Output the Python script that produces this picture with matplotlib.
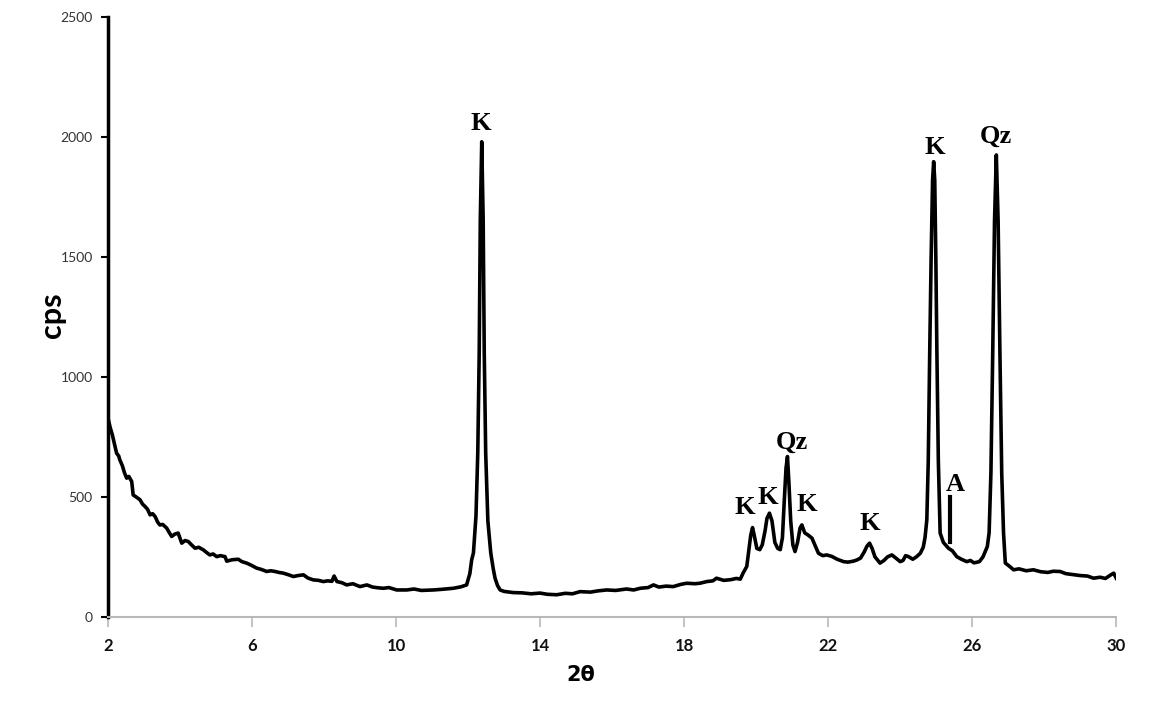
import matplotlib
matplotlib.use('Agg')
import matplotlib.pyplot as plt

# XRD pattern (2theta in degrees, intensity in cps)
two_theta = [
    2.00, 2.06, 2.12, 2.18, 2.24, 2.30, 2.33, 2.40, 2.46, 2.52, 2.58, 2.66, 2.70, 2.78, 2.89, 2.96,
    3.03, 3.10, 3.17, 3.24, 3.31, 3.38, 3.44, 3.52, 3.63, 3.70, 3.77, 3.86, 3.95, 4.05, 4.14, 4.23,
    4.32, 4.42, 4.52, 4.65, 4.74, 4.83, 4.92, 5.02, 5.12, 5.25, 5.30, 5.45, 5.62, 5.72, 5.85, 5.98,
    6.13, 6.25, 6.41, 6.52, 6.64, 6.75, 6.87, 7.00, 7.15, 7.28, 7.43, 7.55, 7.70, 7.85, 7.98, 8.10,
    8.22, 8.28, 8.36, 8.50, 8.63, 8.80, 9.00, 9.19, 9.35, 9.50, 9.65, 9.80, 10.02, 10.30, 10.50, 10.70,
    11.04, 11.30, 11.59, 11.80, 11.96, 12.05, 12.10, 12.15, 12.22, 12.27, 12.31, 12.34, 12.38, 12.42,
    12.45, 12.49, 12.55, 12.63, 12.70, 12.75, 12.82, 12.89, 13.00, 13.26, 13.50, 13.75, 14.00, 14.20,
    14.46, 14.70, 14.90, 15.11, 15.40, 15.60, 15.85, 16.10, 16.40, 16.60, 16.78, 17.00, 17.15, 17.30,
    17.50, 17.70, 17.90, 18.07, 18.30, 18.44, 18.63, 18.80, 18.90, 19.10, 19.30, 19.45, 19.56, 19.64,
    19.74, 19.80, 19.85, 19.90, 19.96, 20.02, 20.10, 20.17, 20.25, 20.30, 20.37, 20.44, 20.52, 20.60,
    20.67, 20.73, 20.78, 20.83, 20.87, 20.91, 20.96, 21.02, 21.08, 21.15, 21.22, 21.27, 21.35, 21.45,
    21.55, 21.63, 21.73, 21.85, 21.96, 22.10, 22.25, 22.43, 22.55, 22.70, 22.80, 22.90, 23.00, 23.08,
    23.15, 23.22, 23.30, 23.44, 23.55, 23.65, 23.77, 23.88, 24.00, 24.08, 24.15, 24.23, 24.35, 24.45,
    24.56, 24.64, 24.69, 24.74, 24.78, 24.82, 24.86, 24.90, 24.93, 24.96, 24.99, 25.02, 25.06, 25.11,
    25.20, 25.34, 25.45, 25.57, 25.70, 25.85, 25.95, 26.05, 26.20, 26.30, 26.42, 26.47, 26.52, 26.57,
    26.62, 26.67, 26.72, 26.77, 26.82, 26.87, 26.92, 27.00, 27.15, 27.30, 27.50, 27.70, 27.90, 28.10,
    28.25, 28.44, 28.60, 28.80, 29.00, 29.20, 29.37, 29.55, 29.70, 29.85, 29.93, 30.00,
]
cps = [
    830, 790, 760, 720, 682, 670, 654, 630, 600, 578, 585, 564, 508, 500, 488, 470,
    460, 448, 425, 430, 418, 395, 383, 385, 370, 352, 335, 345, 349, 307, 318, 314,
    300, 286, 290, 279, 268, 258, 262, 251, 255, 251, 232, 238, 240, 230, 224, 215,
    203, 198, 189, 192, 189, 185, 182, 176, 168, 172, 175, 162, 154, 152, 147, 150,
    148, 170, 147, 142, 133, 138, 126, 133, 124, 121, 119, 122, 112, 112, 116, 110,
    112, 115, 119, 125, 133, 180, 237, 267, 420, 683, 1100, 1654, 1980, 1654,
    1100, 683, 400, 267, 200, 161, 130, 112, 106, 101, 100, 96, 99, 94,
    92, 98, 96, 105, 103, 108, 112, 110, 116, 112, 119, 122, 133, 124,
    128, 126, 135, 140, 138, 140, 147, 150, 161, 152, 155, 160, 157, 183,
    210, 280, 340, 372, 330, 285, 280, 300, 360, 410, 432, 400, 310, 285,
    280, 330, 480, 620, 668, 560, 400, 300, 272, 310, 370, 383, 350, 340,
    328, 300, 265, 255, 258, 252, 240, 230, 228, 232, 237, 245, 270, 295,
    307, 285, 250, 224, 235, 250, 258, 245, 230, 235, 255, 251, 240, 250,
    265, 290, 330, 404, 650, 1100, 1500, 1820, 1897, 1820, 1500, 1100, 650, 349,
    310, 286, 275, 251, 240, 230, 235, 225, 230, 250, 293, 350, 600, 1100,
    1650, 1925, 1650, 1100, 600, 350, 224, 215, 196, 200, 192, 196, 188, 185,
    190, 189, 180, 176, 172, 170, 161, 165, 160, 175, 182, 161,
]

# phase labels: text, 2theta, cps (centre of label)
peak_labels = ['K', 'K', 'Qz', 'Qz', 'K', 'K', 'K', 'K', 'A']
label_x = [12.36, 24.95, 26.67, 21.0, 19.69, 20.32, 21.41, 23.15, 25.53]
label_y = [2057, 1955, 2003, 726, 455, 497, 468, 390, 550]

# anatase marker bar
marker_x = 25.37
marker_y = [313, 501]

x_ticks = [2, 6, 10, 14, 18, 22, 26, 30]
y_ticks = [0, 500, 1000, 1500, 2000, 2500]

fig = plt.figure(figsize=(11.67, 7.09), dpi=100)
ax = fig.add_axes([0.0925, 0.13, 0.864, 0.846])

ax.plot(two_theta, cps, color='black', linewidth=2.6, solid_joinstyle='round')
ax.plot([marker_x, marker_x], marker_y, color='black', linewidth=3)

for txt, lx, ly in zip(peak_labels, label_x, label_y):
    ax.text(lx, ly, txt, ha='center', va='center', fontsize=19, fontweight='bold',
            family='Liberation Serif')

ax.set_xlim(2, 30)
ax.set_ylim(0, 2500)
ax.set_xticks(x_ticks)
ax.set_yticks(y_ticks)

for s in ['top', 'right']:
    ax.spines[s].set_visible(False)
ax.spines['left'].set_linewidth(2.5)
ax.spines['left'].set_color('black')
ax.spines['bottom'].set_linewidth(1.5)
ax.spines['bottom'].set_color('#b8b8b8')

ax.tick_params(axis='y', direction='out', length=5, width=1.5, color='black',
               labelsize=10, labelcolor='#333333', pad=6)
ax.tick_params(axis='x', direction='out', length=7, width=1.2, color='#b8b8b8',
               labelsize=12, labelcolor='#111111', pad=8)
for lab in ax.get_xticklabels():
    lab.set_fontweight('bold')
    lab.set_family('Lato')
for lab in ax.get_yticklabels():
    lab.set_family('Lato')

ax.set_ylabel('cps', fontsize=22, fontweight='bold', family='Lato', va='center')
ax.yaxis.set_label_coords(-0.055, 0.503)
ax.set_xlabel('2θ', fontsize=15, fontweight='bold', family='DejaVu Sans', va='center')
ax.xaxis.set_label_coords(0.469, -0.097)

plt.savefig('out.png')
